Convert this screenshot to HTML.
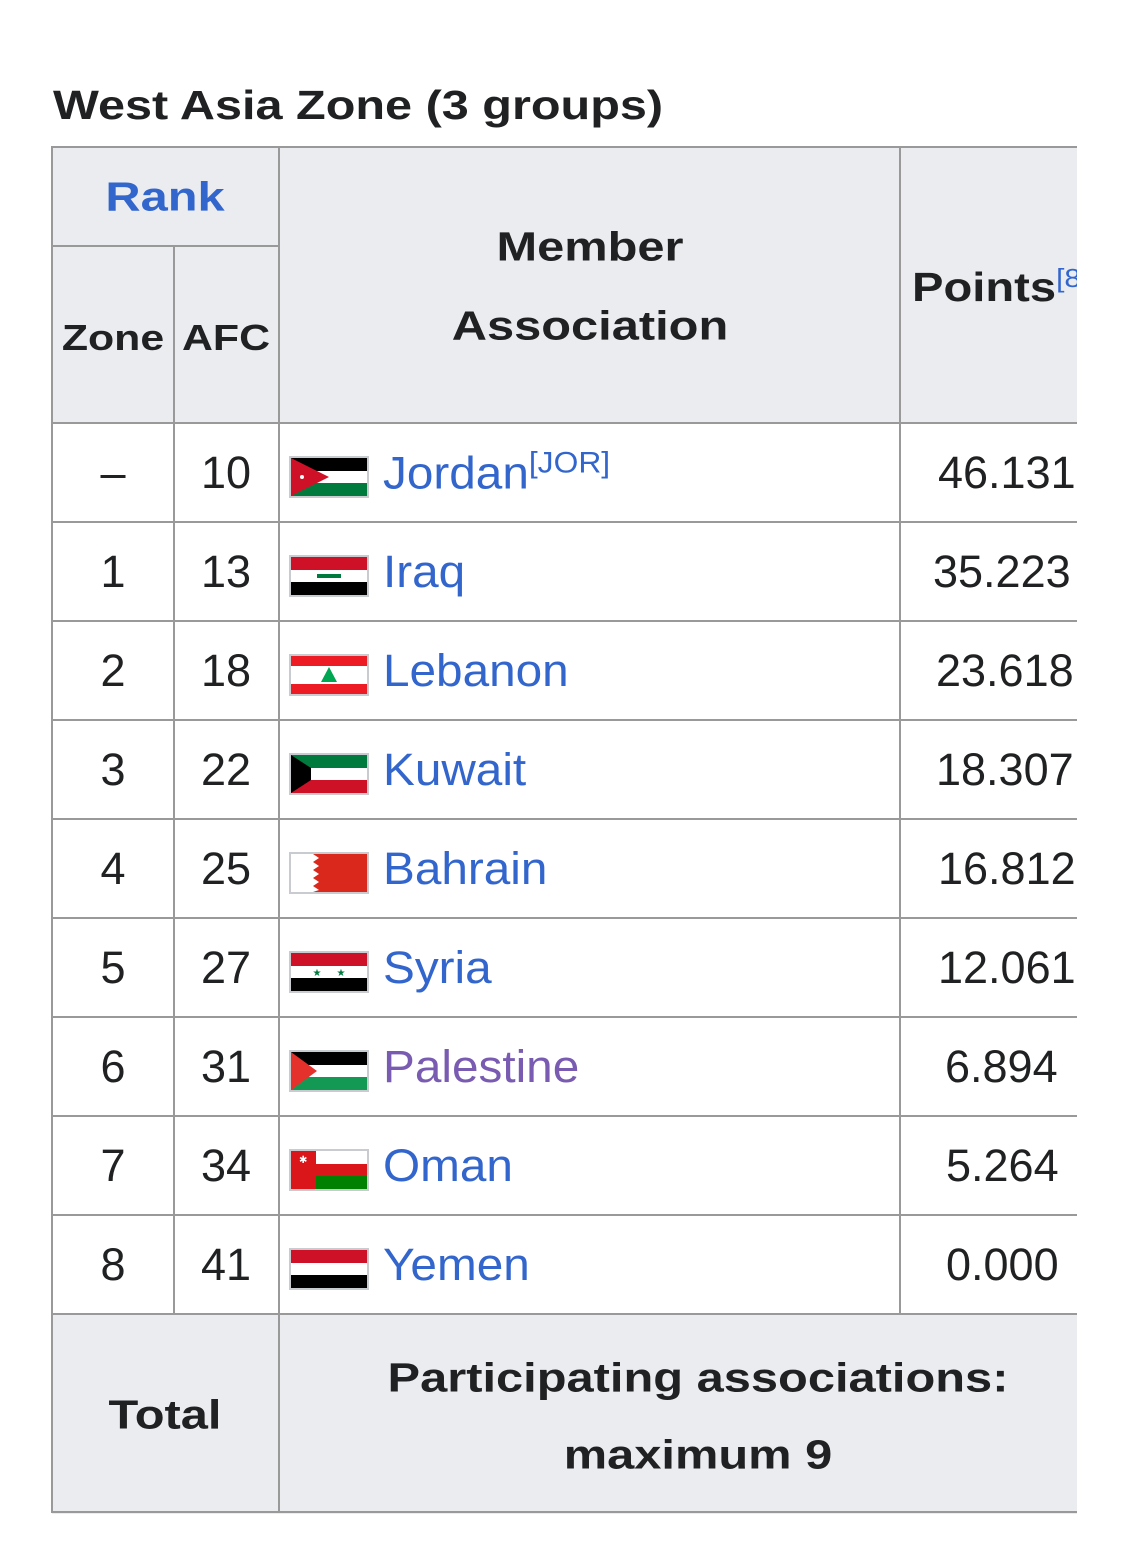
<!DOCTYPE html>
<html><head><meta charset="utf-8"><style>
body{margin:0;width:1125px;height:1552px;background:#fff;position:relative;overflow:hidden;font-family:"Liberation Sans",Arial,sans-serif;color:#202122}
.a{position:absolute}
.h{background:#eaecf0}
.l{position:absolute;background:#999}
.t{position:absolute;transform:translate(-50%,-50%);white-space:nowrap}
.t.b{transform:translate(-50%,-50%) scaleX(1.19)}
.b{font-weight:bold}
.n{font-size:45px}
.lk{color:#3366cc;font-size:45px;position:absolute;transform:translateY(-50%) scaleX(1.06);transform-origin:left center;white-space:nowrap}
.f{position:absolute;left:289px;width:80px;height:42px}
</style></head><body>
<div class="a b" style="left:53px;top:82px;font-size:41px;transform:scaleX(1.185);transform-origin:left top;white-space:nowrap">West Asia Zone (3 groups)</div>
<div class="a" style="left:52px;top:147px;width:1025px;height:1367px;overflow:hidden">
<div class="a h" style="left:0;top:0;width:1025px;height:276px"></div>
<div class="a h" style="left:0;top:1167px;width:1025px;height:200px"></div>
</div>
<div class="l" style="left:52px;top:146px;width:1025px;height:2px"></div>
<div class="l" style="left:52px;top:245px;width:227px;height:2px"></div>
<div class="l" style="left:52px;top:422px;width:1025px;height:2px"></div>
<div class="l" style="left:52px;top:521px;width:1025px;height:2px"></div>
<div class="l" style="left:52px;top:620px;width:1025px;height:2px"></div>
<div class="l" style="left:52px;top:719px;width:1025px;height:2px"></div>
<div class="l" style="left:52px;top:818px;width:1025px;height:2px"></div>
<div class="l" style="left:52px;top:917px;width:1025px;height:2px"></div>
<div class="l" style="left:52px;top:1016px;width:1025px;height:2px"></div>
<div class="l" style="left:52px;top:1115px;width:1025px;height:2px"></div>
<div class="l" style="left:52px;top:1214px;width:1025px;height:2px"></div>
<div class="l" style="left:52px;top:1313px;width:1025px;height:2px"></div>
<div class="l" style="left:52px;top:1511px;width:1025px;height:2px"></div>
<div class="l" style="left:51px;top:146px;width:2px;height:1367px"></div>
<div class="l" style="left:173px;top:245px;width:2px;height:1070px"></div>
<div class="l" style="left:278px;top:146px;width:2px;height:1367px"></div>
<div class="l" style="left:899px;top:146px;width:2px;height:1169px"></div>

<div class="t b" style="left:165px;top:197px;font-size:41px;color:#3366cc">Rank</div>
<div class="t b" style="left:113px;top:338px;font-size:36px">Zone</div>
<div class="t b" style="left:226px;top:338px;font-size:36px">AFC</div>
<div class="t b" style="left:590px;top:247px;font-size:41px">Member</div>
<div class="t b" style="left:590px;top:326px;font-size:41px">Association</div>
<div class="a" style="left:900px;top:147px;width:177px;height:276px;overflow:hidden">
<div class="a b" style="left:12px;top:116px;font-size:41px;white-space:nowrap;transform:scaleX(1.15);transform-origin:left top">Points<sup style="font-size:26px;font-weight:normal;color:#3366cc;vertical-align:14px">[8]</sup></div>
</div>

<div class="t b" style="left:165px;top:1415px;font-size:41px">Total</div>
<div class="t b" style="left:698px;top:1378px;font-size:41px">Participating associations:</div>
<div class="t b" style="left:698px;top:1455px;font-size:41px">maximum 9</div>

<div class="a" style="left:900px;top:423px;width:177px;height:891px;overflow:hidden">
<div class="a n" style="left:38px;top:24px">46.131</div>
<div class="a n" style="left:33px;top:123px">35.223</div>
<div class="a n" style="left:36px;top:222px">23.618</div>
<div class="a n" style="left:36px;top:321px">18.307</div>
<div class="a n" style="left:38px;top:420px">16.812</div>
<div class="a n" style="left:38px;top:519px">12.061</div>
<div class="a n" style="left:45px;top:618px">6.894</div>
<div class="a n" style="left:46px;top:717px">5.264</div>
<div class="a n" style="left:46px;top:816px">0.000</div>
</div>

<div class="t n" style="left:113px;top:473px">–</div><div class="t n" style="left:226px;top:473px">10</div>
<div class="t n" style="left:113px;top:572px">1</div><div class="t n" style="left:226px;top:572px">13</div>
<div class="t n" style="left:113px;top:671px">2</div><div class="t n" style="left:226px;top:671px">18</div>
<div class="t n" style="left:113px;top:770px">3</div><div class="t n" style="left:226px;top:770px">22</div>
<div class="t n" style="left:113px;top:869px">4</div><div class="t n" style="left:226px;top:869px">25</div>
<div class="t n" style="left:113px;top:968px">5</div><div class="t n" style="left:226px;top:968px">27</div>
<div class="t n" style="left:113px;top:1067px">6</div><div class="t n" style="left:226px;top:1067px">31</div>
<div class="t n" style="left:113px;top:1166px">7</div><div class="t n" style="left:226px;top:1166px">34</div>
<div class="t n" style="left:113px;top:1265px">8</div><div class="t n" style="left:226px;top:1265px">41</div>

<div class="lk" style="left:383px;top:473px">Jordan<sup style="font-size:30px;vertical-align:16px">[JOR]</sup></div>
<div class="lk" style="left:383px;top:572px">Iraq</div>
<div class="lk" style="left:383px;top:671px">Lebanon</div>
<div class="lk" style="left:383px;top:770px">Kuwait</div>
<div class="lk" style="left:383px;top:869px">Bahrain</div>
<div class="lk" style="left:383px;top:968px">Syria</div>
<div class="lk" style="left:383px;top:1067px;color:#795cb2">Palestine</div>
<div class="lk" style="left:383px;top:1166px">Oman</div>
<div class="lk" style="left:383px;top:1265px">Yemen</div>

<svg class="f" style="top:456px" viewBox="0 0 80 42"><rect width="80" height="42" fill="#c8ccd1"/><rect x="2" y="2" width="76" height="13" fill="#000"/><rect x="2" y="15" width="76" height="12" fill="#fff"/><rect x="2" y="27" width="76" height="13" fill="#007a3d"/><polygon points="2,2 40,21 2,40" fill="#ce1126"/><circle cx="13" cy="21" r="2" fill="#fff"/></svg>
<svg class="f" style="top:555px" viewBox="0 0 80 42"><rect width="80" height="42" fill="#c8ccd1"/><rect x="2" y="2" width="76" height="13" fill="#ce1126"/><rect x="2" y="15" width="76" height="12" fill="#fff"/><rect x="2" y="27" width="76" height="13" fill="#000"/><rect x="28" y="19" width="24" height="4" fill="#007a3d"/></svg>
<svg class="f" style="top:654px" viewBox="0 0 80 42"><rect width="80" height="42" fill="#c8ccd1"/><rect x="2" y="2" width="76" height="10" fill="#ed1c24"/><rect x="2" y="12" width="76" height="18" fill="#fff"/><rect x="2" y="30" width="76" height="10" fill="#ed1c24"/><polygon points="40,13 48,28 32,28" fill="#00a651"/></svg>
<svg class="f" style="top:753px" viewBox="0 0 80 42"><rect width="80" height="42" fill="#c8ccd1"/><rect x="2" y="2" width="76" height="13" fill="#007a3d"/><rect x="2" y="15" width="76" height="12" fill="#fff"/><rect x="2" y="27" width="76" height="13" fill="#ce1126"/><polygon points="2,2 22,15 22,27 2,40" fill="#000"/></svg>
<svg class="f" style="top:852px" viewBox="0 0 80 42"><rect width="80" height="42" fill="#c8ccd1"/><rect x="2" y="2" width="76" height="38" fill="#da291c"/><polygon points="2,2 24,2 30,6 24,10 30,14 24,18 30,22 24,26 30,30 24,34 30,38 24,40 2,40" fill="#fff"/></svg>
<svg class="f" style="top:951px" viewBox="0 0 80 42"><rect width="80" height="42" fill="#c8ccd1"/><rect x="2" y="2" width="76" height="13" fill="#ce1126"/><rect x="2" y="15" width="76" height="12" fill="#fff"/><rect x="2" y="27" width="76" height="13" fill="#000"/><text x="28" y="25" font-size="10" fill="#007a3d" text-anchor="middle">★</text><text x="52" y="25" font-size="10" fill="#007a3d" text-anchor="middle">★</text></svg>
<svg class="f" style="top:1050px" viewBox="0 0 80 42"><rect width="80" height="42" fill="#c8ccd1"/><rect x="2" y="2" width="76" height="13" fill="#000"/><rect x="2" y="15" width="76" height="12" fill="#fff"/><rect x="2" y="27" width="76" height="13" fill="#149954"/><polygon points="2,2 28,21 2,40" fill="#e4312b"/></svg>
<svg class="f" style="top:1149px" viewBox="0 0 80 42"><rect width="80" height="42" fill="#c8ccd1"/><rect x="2" y="2" width="76" height="13" fill="#fff"/><rect x="2" y="15" width="76" height="12" fill="#db161b"/><rect x="2" y="27" width="76" height="13" fill="#008000"/><rect x="2" y="2" width="25" height="38" fill="#db161b"/><text x="10" y="14" font-size="10" fill="#fff">✱</text></svg>
<svg class="f" style="top:1248px" viewBox="0 0 80 42"><rect width="80" height="42" fill="#c8ccd1"/><rect x="2" y="2" width="76" height="13" fill="#ce1126"/><rect x="2" y="15" width="76" height="12" fill="#fff"/><rect x="2" y="27" width="76" height="13" fill="#000"/></svg>
</body></html>
